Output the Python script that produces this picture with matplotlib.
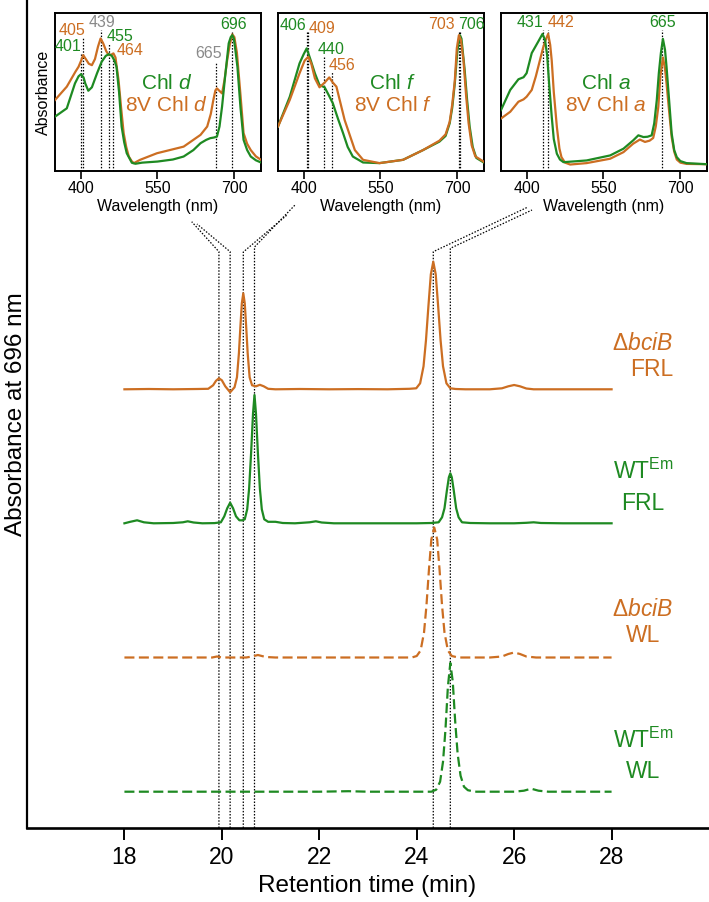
import numpy as np
import matplotlib
matplotlib.use('Agg')
import matplotlib.pyplot as plt

plt.rcParams['font.family'] = ['Liberation Sans', 'DejaVu Sans']
plt.rcParams['mathtext.fontset'] = 'custom'
plt.rcParams['mathtext.rm'] = 'Liberation Sans'
plt.rcParams['mathtext.it'] = 'Liberation Sans:italic'
plt.rcParams['mathtext.bf'] = 'Liberation Sans:bold'

ORANGE = '#CC6E22'
GREEN = '#1E8A22'
GRAY = '#8A8A8A'

# ---------------- chromatogram data (retention time, relative absorbance) ----------------
DBCIB_FRL = [(18.0, 0), (18.5, 0.3), (19.0, 0), (19.5, 0.3), (19.72, 0.5), (19.82, 4), (19.88, 8.5),
             (19.94, 11), (20.0, 9), (20.07, 3), (20.17, -3), (20.26, 2), (20.31, 12), (20.35, 36),
             (20.38, 62), (20.41, 86), (20.44, 96), (20.47, 86), (20.5, 62), (20.53, 36), (20.57, 12),
             (20.62, 4), (20.7, 3), (20.78, 4.5), (20.86, 3), (20.95, 0.5), (21.1, 0), (21.6, 0.3),
             (22.2, 0), (22.8, 0.2), (23.4, 0), (23.85, 0.5), (23.99, 1), (24.07, 6), (24.14, 23),
             (24.19, 49), (24.24, 83), (24.29, 115), (24.34, 127.6), (24.39, 115), (24.44, 83),
             (24.49, 49), (24.54, 23), (24.61, 6), (24.69, 1), (24.8, 0.3), (25.0, 0), (25.5, 0),
             (25.75, 1), (25.88, 3), (26.0, 4.3), (26.12, 3), (26.25, 0.8), (26.4, 0), (27.0, 0), (28.0, 0)]
WT_FRL = [(18.0, 0), (18.12, 1.5), (18.26, 3), (18.4, 1), (18.6, 0), (19.0, 0.3), (19.2, 1), (19.3, 2),
          (19.42, 0.8), (19.6, 0), (19.85, 0.2), (19.98, 1), (20.05, 7), (20.11, 15), (20.17, 20.6),
          (20.23, 15), (20.29, 7), (20.36, 3), (20.42, 3), (20.47, 4), (20.52, 14), (20.56, 35),
          (20.6, 70), (20.64, 110), (20.67, 128.3), (20.7, 110), (20.74, 70), (20.78, 35), (20.82, 14),
          (20.87, 4), (20.95, 1.5), (21.1, 1.5), (21.25, 0.3), (21.5, 0), (21.8, 1), (21.93, 2),
          (22.05, 0.8), (22.3, 0), (23.0, 0), (24.0, 0), (24.3, 0.3), (24.45, 1), (24.52, 6),
          (24.57, 15), (24.62, 33), (24.66, 46), (24.69, 50), (24.72, 46), (24.76, 33), (24.81, 15),
          (24.86, 6), (24.93, 1), (25.1, 0.3), (25.5, 0), (26.0, 0), (26.25, 0.5), (26.4, 1),
          (26.55, 0.3), (27.0, 0), (28.0, 0)]
DBCIB_WL = [(18, 0), (19, 0), (19.8, 0), (19.9, 1), (20.0, 0), (20.5, 0), (20.62, 1), (20.74, 2.5),
            (20.9, 0.5), (21.1, 0), (22, 0), (23, 0), (23.9, 0), (24.0, 1.5), (24.08, 7), (24.15, 25),
            (24.2, 52), (24.25, 87), (24.3, 118), (24.36, 130), (24.42, 118), (24.47, 87), (24.52, 52),
            (24.57, 25), (24.64, 7), (24.72, 1.5), (24.85, 0), (25.5, 0), (25.75, 1), (25.88, 3.5),
            (26.0, 5), (26.12, 3.5), (26.25, 1), (26.45, 0), (27, 0), (28, 0)]
WT_WL = [(18, 0), (20, 0), (22, 0), (22.6, 0.5), (23, 0), (24.3, 0), (24.4, 2), (24.48, 10), (24.54, 30),
         (24.59, 62), (24.64, 105), (24.69, 128.7), (24.74, 110), (24.79, 70), (24.84, 38), (24.9, 16),
         (24.97, 5), (25.05, 1.5), (25.2, 0), (26.0, 0), (26.2, 1), (26.35, 3), (26.5, 1), (26.7, 0),
         (27, 0), (28, 0)]
PEAK_TIMES = [19.94, 20.17, 20.44, 20.67, 24.34, 24.69]
XTICKS = [18, 20, 22, 24, 26, 28]

# ---------------- absorption spectra (wavelength nm, normalised absorbance) ----------------
CHLD = [(350, .343), (373, .396), (389, .555), (396, .60), (401, .614), (406, .59), (409, .555), (415, .508),
        (422, .53), (432, .619), (441, .692), (449, .73), (455, .741), (461, .73), (466, .70), (470, .661),
        (475, .50), (480, .28), (485, .18), (490, .11), (500, .049), (507, .043), (520, .05), (550, .057),
        (580, .07), (601, .089), (620, .13), (634, .174), (645, .195), (653, .206), (660, .21), (666, .216),
        (671, .28), (676, .407), (682, .60), (689, .81), (693, .85), (696, .862), (699, .84), (702, .767),
        (706, .66), (712, .40), (718, .195), (725, .13), (732, .089), (742, .065), (752, .051)]
CHLD8V = [(350, .449), (373, .534), (390, .63), (396, .661), (401, .70), (405, .735), (410, .71), (416, .68),
          (422, .671), (428, .71), (434, .79), (439, .841), (444, .81), (450, .76), (455, .735), (460, .738),
          (464, .746), (468, .72), (474, .576), (479, .40), (484, .238), (489, .15), (494, .089), (500, .058),
          (504, .047), (516, .068), (549, .11), (601, .152), (634, .227), (647, .28), (654, .36), (659, .449),
          (663, .51), (666, .523), (670, .51), (676, .491), (681, .58), (686, .703), (691, .80), (696, .867),
          (700, .85), (705, .75), (712, .48), (718, .238), (725, .17), (732, .13), (742, .09), (752, .068)]
CHLF = [(350, .28), (373, .47), (392, .682), (400, .74), (406, .778), (414, .70), (422, .619), (431, .544),
        (441, .53), (449, .48), (457, .428), (467, .33), (477, .238), (486, .15), (496, .089), (516, .051),
        (548, .047), (594, .068), (633, .13), (665, .184), (677, .22), (685, .30), (690, .40), (695, .555),
        (700, .76), (705, .862), (708, .84), (714, .65), (719, .45), (724, .28), (730, .15), (737, .08),
        (752, .05)]
CHLF8V = [(350, .28), (373, .45), (392, .619), (402, .70), (409, .724), (415, .68), (422, .587), (431, .53),
          (441, .56), (450, .593), (457, .56), (464, .534), (480, .322), (500, .13), (516, .068), (548, .047),
          (594, .068), (633, .13), (665, .19), (677, .23), (685, .31), (690, .42), (695, .57), (699, .78),
          (703, .862), (707, .83), (712, .70), (717, .48), (722, .30), (728, .16), (735, .09), (752, .055)]
CHLA = [(350, .385), (368, .513), (384, .581), (394, .594), (400, .62), (410, .748), (423, .823), (431, .87),
        (436, .83), (440, .735), (444, .55), (449, .342), (453, .2), (459, .107), (465, .07), (472, .053),
        (517, .064), (563, .096), (589, .139), (608, .192), (618, .224), (628, .213), (636, .215), (644, .224),
        (649, .30), (654, .449), (658, .62), (662, .748), (666, .838), (670, .77), (673, .662), (678, .45),
        (683, .237), (688, .13), (693, .085), (700, .06), (712, .047), (752, .04)]
CHLA8V = [(350, .331), (368, .374), (384, .438), (394, .453), (400, .47), (410, .513), (418, .60), (425, .69),
          (432, .78), (437, .83), (442, .87), (446, .80), (449, .70), (453, .50), (459, .278), (464, .14),
          (468, .085), (475, .05), (485, .038), (517, .047), (563, .075), (589, .117), (608, .171), (621, .197),
          (631, .182), (640, .19), (647, .207), (652, .28), (657, .406), (661, .60), (666, .72), (670, .65),
          (673, .556), (678, .38), (683, .214), (688, .12), (693, .07), (700, .05), (712, .042), (752, .04)]
WL_TICKS = [400, 550, 700]

# peak labels: (text, wavelength of dotted line, colour key)
PEAKS_D = [('401', 401, 'g'), ('405', 405, 'o'), ('439', 439, 'k'), ('455', 455, 'g'), ('464', 464, 'o'),
           ('665', 665, 'k'), ('696', 696, 'g')]
PEAKS_F = [('406', 406, 'g'), ('409', 409, 'o'), ('440', 440, 'g'), ('456', 456, 'o'), ('703', 703, 'o'),
           ('706', 706, 'g')]
PEAKS_A = [('431', 431, 'g'), ('442', 442, 'o'), ('665', 665, 'g')]

# ---------------- layout (pixel positions, top-left origin) ----------------
W, H = 709, 902
COL = {'g': GREEN, 'o': ORANGE, 'k': GRAY}
fig = plt.figure(figsize=(W / 100, H / 100), dpi=100)


def fbox(x0, y0, x1, y1):
    return [x0 / W, 1 - y1 / H, (x1 - x0) / W, (y1 - y0) / H]


AX_L, AX_R, AX_B = 27, 709, 828
XMIN, XMAX = 16, 30
ax = fig.add_axes(fbox(AX_L, 0, AX_R, AX_B))
ax.set_xlim(XMIN, XMAX)
ax.set_ylim(0, AX_B)
for s in ('top', 'right'):
    ax.spines[s].set_visible(False)
ax.spines['left'].set_linewidth(1.6)
ax.spines['bottom'].set_linewidth(1.9)
ax.set_yticks([])
ax.set_xticks(XTICKS)
ax.tick_params(axis='x', direction='out', length=8.6, width=1.4, labelsize=16.5, pad=4)

offsets = [438.7, 304.7, 170.5, 36.3]
styles = [(DBCIB_FRL, ORANGE, '-'), (WT_FRL, GREEN, '-'),
          (DBCIB_WL, ORANGE, (0, (4.5, 2))), (WT_WL, GREEN, (0, (4.5, 2)))]
for (dat, c, ls), off in zip(styles, offsets):
    arr = np.array(dat, dtype=float)
    ax.plot(arr[:, 0], arr[:, 1] + off, color=c, lw=1.6, ls=ls, solid_joinstyle='round')


def px2data(px, py):
    return XMIN + (px - AX_L) / (AX_R - AX_L) * (XMAX - XMIN), AX_B - py


# connectors: bend y, end point (px)
CONN = [(251.7, (191.7, 221.7)), (251.7, (197.0, 224.0)), (252.0, (287.0, 215.0)),
        (247.0, (295.0, 205.0)), (251.7, (528.0, 207.0)), (248.3, (532.0, 210.0))]
dot = (0, (1.2, 1.3))
for t, (by, (ex, ey)) in zip(PEAK_TIMES, CONN):
    _, ybend = px2data(0, by)
    xe, ye = px2data(ex, ey)
    ax.plot([t, t, xe], [0, ybend, ye], color='black', lw=0.9, ls=dot, clip_on=False, zorder=1)

fig.text(367 / W, 1 - 886 / H, 'Retention time (min)', ha='center', va='center', fontsize=17.5)
fig.text(16 / W, 1 - 414 / H, 'Absorbance at 696 nm', ha='center', va='center', fontsize=17.5,
         rotation=90)

# sample labels: (text, colour, x, y)
LABELS = [('Δ$\\mathit{bciB}$', ORANGE, 643, 343), ('FRL', ORANGE, 652, 370),
          ('WT$^{\\mathregular{Em}}$', GREEN, 643, 471), ('FRL', GREEN, 643, 504),
          ('Δ$\\mathit{bciB}$', ORANGE, 643, 609), ('WL', ORANGE, 643, 636),
          ('WT$^{\\mathregular{Em}}$', GREEN, 643, 740), ('WL', GREEN, 643, 772)]
for txt, c, x, y in LABELS:
    fig.text(x / W, 1 - y / H, txt, color=c, ha='center', va='center', fontsize=16.5)

# ---------------- insets ----------------
INSETS = [
    dict(x0=55, curves=(CHLD, CHLD8V), peaks=PEAKS_D, name=('Chl $\\mathit{d}$', '8V Chl $\\mathit{d}$'),
         namex=568,
         lab={'401': (376, .79, .745), '405': (383, .894, .85), '439': (441, .94, .895), '455': (477, .856, .808),
              '464': (497, .767, .713), '665': (650, .746, .69), '696': (699, .932, .882)}),
    dict(x0=278, curves=(CHLF, CHLF8V), peaks=PEAKS_F, name=('Chl $\\mathit{f}$', '8V Chl $\\mathit{f}$'),
         namex=574,
         lab={'406': (379, .926, .885), '409': (435, .905, .885), '440': (454, .77, .724), '456': (474, .67, .629),
              '703': (669, .932, .885), '706': (728, .932, .885)}),
    dict(x0=501, curves=(CHLA, CHLA8V), peaks=PEAKS_A, name=('Chl $\\mathit{a}$', '8V Chl $\\mathit{a}$'),
         namex=555,
         lab={'431': (406, .94, .897), '442': (468, .94, .897), '665': (665, .94, .897)}),
]
for i, ins in enumerate(INSETS):
    x0 = ins['x0']
    ia = fig.add_axes(fbox(x0, 13.5, x0 + 206, 170.5))
    ia.set_xlim(350, 752)
    ia.set_ylim(0, 1)
    g, o = ins['curves']
    for dat, c in ((o, ORANGE), (g, GREEN)) if i != 1 else ((g, GREEN), (o, ORANGE)):
        arr = np.array(dat, dtype=float)
        ia.plot(arr[:, 0], arr[:, 1], color=c, lw=1.6, zorder=3, solid_joinstyle='round')
    for txt, wl, ck in ins['peaks']:
        lx, ly, top = ins['lab'][txt]
        ia.plot([wl, wl], [0, top], color='black', lw=0.9, ls=dot, zorder=2)
        ia.text(lx, ly, txt, color=COL[ck], ha='center', va='center', fontsize=11.5)
    ia.text(ins['namex'], .555, ins['name'][0], color=GREEN, ha='center', va='center', fontsize=15)
    ia.text(ins['namex'], .415, ins['name'][1], color=ORANGE, ha='center', va='center', fontsize=15)
    ia.set_yticks([])
    ia.set_xticks(WL_TICKS)
    ia.tick_params(axis='x', direction='out', length=5.5, width=1.2, labelsize=11.5, pad=2)
    for s in ia.spines.values():
        s.set_linewidth(1.4)
    fig.text((x0 + 103) / W, 1 - 206.5 / H, 'Wavelength (nm)', ha='center', va='center', fontsize=11.5)

fig.text(43 / W, 1 - 92 / H, 'Absorbance', ha='center', va='center', fontsize=11.5, rotation=90)

fig.savefig('out.png', dpi=100)
